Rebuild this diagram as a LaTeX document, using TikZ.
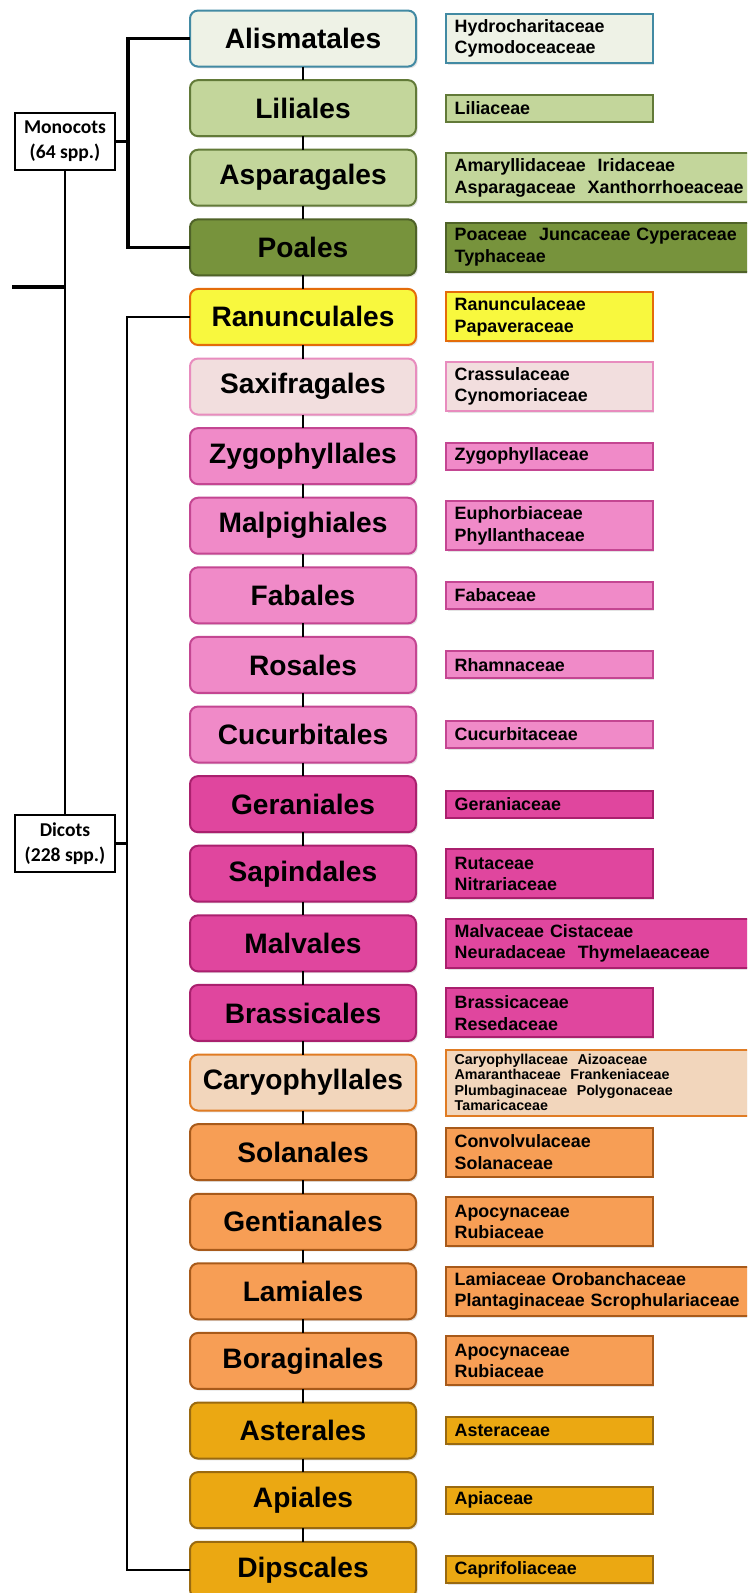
\documentclass[tikz,border=0pt]{standalone}
\usepackage{fontspec}
\setmainfont{Liberation Sans}
\newfontfamily\calibri{Carlito}
\usepackage{tikz}
\usetikzlibrary{positioning,shadows}
\definecolor{alisFill}{RGB}{238,242,230}
\definecolor{alisLine}{RGB}{66,138,163}
\definecolor{liliFill}{RGB}{195,214,155}
\definecolor{liliLine}{RGB}{98,122,56}
\definecolor{poaFill}{RGB}{119,147,60}
\definecolor{poaLine}{RGB}{79,98,40}
\definecolor{ranFill}{RGB}{248,248,62}
\definecolor{ranLine}{RGB}{228,108,10}
\definecolor{saxFill}{RGB}{242,222,222}
\definecolor{saxLine}{RGB}{232,140,190}
\definecolor{pinkFill}{RGB}{240,138,200}
\definecolor{pinkLine}{RGB}{196,70,146}
\definecolor{magFill}{RGB}{224,70,158}
\definecolor{magLine}{RGB}{170,32,110}
\definecolor{caryFill}{RGB}{242,214,188}
\definecolor{caryLine}{RGB}{224,124,36}
\definecolor{oraFill}{RGB}{247,158,85}
\definecolor{oraLine}{RGB}{168,90,26}
\definecolor{goldFill}{RGB}{235,168,18}
\definecolor{goldLine}{RGB}{154,106,16}
\newcommand\ordfont{\fontsize{21.1pt}{24pt}\selectfont\bfseries}
\newcommand\famfont{\fontsize{13.4pt}{16.1pt}\selectfont\bfseries}
\newcommand\tinyfamfont{\fontsize{10.7pt}{11.6pt}\selectfont\bfseries}
\newcommand\cladefont{\calibri\fontsize{14.7pt}{19pt}\selectfont\bfseries}

\begin{document}
\begin{tikzpicture}[
  ord/.style={draw,rounded corners=6pt,line width=1.5pt,minimum width=169.5pt,minimum height=42pt,outer sep=0pt,font=\ordfont,
    drop shadow={opacity=0.22,shadow xshift=1.3pt,shadow yshift=-1.3pt}},
  fam/.style={draw,line width=1.5pt,text width=142pt,align=left,inner xsep=6.5pt,inner ysep=0pt,minimum height=20.25pt,outer sep=0pt,font=\famfont,
    drop shadow={opacity=0.22,shadow xshift=1.3pt,shadow yshift=-1.3pt}},
  fam2/.style={fam,minimum height=36.75pt},
  famwide/.style={fam2,text width=250pt},
  clade/.style={draw,line width=1.1pt,fill=white,minimum width=75pt,minimum height=42.75pt,align=center,font=\cladefont,outer sep=0pt},
  link/.style={line width=1.8pt},
  branch/.style={line width=2.4pt},
  cAlis/.style={fill=alisFill,draw=alisLine},
  cLili/.style={fill=liliFill,draw=liliLine},
  cPoa/.style={fill=poaFill,draw=poaLine},
  cRan/.style={fill=ranFill,draw=ranLine},
  cSax/.style={fill=saxFill,draw=saxLine},
  cPink/.style={fill=pinkFill,draw=pinkLine},
  cMag/.style={fill=magFill,draw=magLine},
  cCary/.style={fill=caryFill,draw=caryLine},
  cOra/.style={fill=oraFill,draw=oraLine},
  cGold/.style={fill=goldFill,draw=goldLine},
]
\useasboundingbox (0,0) rectangle (560.25pt,-1194.75pt);
\clip (0,0) rectangle (560.25pt,-1194.75pt);

% orders
\node[ord,cAlis] (ali) at (227.25pt,-28.9pt) {Alismatales};
\node[ord,cLili,below=10.2pt of ali] (lil) {Liliales};
\node[ord,cLili,below=10.2pt of lil] (asp) {Asparagales};
\node[ord,cPoa,below=10.2pt of asp] (poa) {Poales};
\node[ord,cRan,below=10.2pt of poa] (ran) {Ranunculales};
\node[ord,cSax,below=10.2pt of ran] (sax) {Saxifragales};
\node[ord,cPink,below=10.2pt of sax] (zyg) {Zygophyllales};
\node[ord,cPink,below=10.2pt of zyg] (mal) {Malpighiales};
\node[ord,cPink,below=10.2pt of mal] (fab) {Fabales};
\node[ord,cPink,below=10.2pt of fab] (ros) {Rosales};
\node[ord,cPink,below=10.2pt of ros] (cuc) {Cucurbitales};
\node[ord,cMag,below=10.2pt of cuc] (ger) {Geraniales};
\node[ord,cMag,below=10.2pt of ger] (sap) {Sapindales};
\node[ord,cMag,below=10.2pt of sap] (mav) {Malvales};
\node[ord,cMag,below=10.2pt of mav] (bra) {Brassicales};
\node[ord,cCary,below=10.2pt of bra] (car) {Caryophyllales};
\node[ord,cOra,below=10.2pt of car] (sol) {Solanales};
\node[ord,cOra,below=10.2pt of sol] (gen) {Gentianales};
\node[ord,cOra,below=10.2pt of gen] (lam) {Lamiales};
\node[ord,cOra,below=10.2pt of lam] (bor) {Boraginales};
\node[ord,cGold,below=10.2pt of bor] (ast) {Asterales};
\node[ord,cGold,below=10.2pt of ast] (api) {Apiales};
\node[ord,cGold,below=10.2pt of api] (dip) {Dipscales};

% families
\node[fam2,cAlis,right=22.5pt of ali] (aliF) {Hydrocharitaceae\\Cymodoceaceae};
\node[fam,cLili,right=22.5pt of lil] (lilF) {Liliaceae};
\node[famwide,cLili,right=22.5pt of asp] (aspF) {Amaryllidaceae\ \ Iridaceae\\Asparagaceae\ \ Xanthorrhoeaceae};
\node[famwide,cPoa,right=22.5pt of poa] (poaF) {Poaceae\ \ Juncaceae Cyperaceae\\Typhaceae};
\node[fam2,cRan,right=22.5pt of ran] (ranF) {Ranunculaceae\\Papaveraceae};
\node[fam2,cSax,right=22.5pt of sax] (saxF) {Crassulaceae\\Cynomoriaceae};
\node[fam,cPink,right=22.5pt of zyg] (zygF) {Zygophyllaceae};
\node[fam2,cPink,right=22.5pt of mal] (malF) {Euphorbiaceae\\Phyllanthaceae};
\node[fam,cPink,right=22.5pt of fab] (fabF) {Fabaceae};
\node[fam,cPink,right=22.5pt of ros] (rosF) {Rhamnaceae};
\node[fam,cPink,right=22.5pt of cuc] (cucF) {Cucurbitaceae};
\node[fam,cMag,right=22.5pt of ger] (gerF) {Geraniaceae};
\node[fam2,cMag,right=22.5pt of sap] (sapF) {Rutaceae\\Nitrariaceae};
\node[famwide,cMag,right=22.5pt of mav] (mavF) {Malvaceae Cistaceae\\Neuradaceae\ \ Thymelaeaceae};
\node[fam2,cMag,right=22.5pt of bra] (braF) {Brassicaceae\\Resedaceae};
\node[famwide,cCary,minimum height=49.5pt,font=\tinyfamfont,right=22.5pt of car] (carF) {Caryophyllaceae\ \ Aizoaceae\\Amaranthaceae\ \ Frankeniaceae\\Plumbaginaceae\ \ Polygonaceae\\Tamaricaceae};
\node[fam2,cOra,right=22.5pt of sol] (solF) {Convolvulaceae\\Solanaceae};
\node[fam2,cOra,right=22.5pt of gen] (genF) {Apocynaceae\\Rubiaceae};
\node[famwide,cOra,right=22.5pt of lam] (lamF) {Lamiaceae Orobanchaceae\\Plantaginaceae Scrophulariaceae};
\node[fam2,cOra,right=22.5pt of bor] (borF) {Apocynaceae\\Rubiaceae};
\node[fam,cGold,right=22.5pt of ast] (astF) {Asteraceae};
\node[fam,cGold,right=22.5pt of api] (apiF) {Apiaceae};
\node[fam,cGold,right=22.5pt of dip] (dipF) {Caprifoliaceae};

% order chain
\draw[link] (ali) -- (lil);
\draw[link] (lil) -- (asp);
\draw[link] (asp) -- (poa);
\draw[link] (poa) -- (ran);
\draw[link] (ran) -- (sax);
\draw[link] (sax) -- (zyg);
\draw[link] (zyg) -- (mal);
\draw[link] (mal) -- (fab);
\draw[link] (fab) -- (ros);
\draw[link] (ros) -- (cuc);
\draw[link] (cuc) -- (ger);
\draw[link] (ger) -- (sap);
\draw[link] (sap) -- (mav);
\draw[link] (mav) -- (bra);
\draw[link] (bra) -- (car);
\draw[link] (car) -- (sol);
\draw[link] (sol) -- (gen);
\draw[link] (gen) -- (lam);
\draw[link] (lam) -- (bor);
\draw[link] (bor) -- (ast);
\draw[link] (ast) -- (api);
\draw[link] (api) -- (dip);

% clades
\node[clade] (mono) at (48.75pt,-106.1pt) {Monocots\\(64 spp.)};
\node[clade] (dico) at (48.75pt,-632.6pt) {Dicots\\(228 spp.)};
\coordinate[right=9.75pt of mono] (mbar);
\coordinate[right=9pt of dico] (dbar);
\coordinate (root) at (9pt,-215.25pt);

\draw[branch] (mono.east) -- (mbar);
\draw[branch] (ali.west) -| (mbar);
\draw[branch] (poa.west) -| (mbar);
\draw[link] (dico.east) -- (dbar);
\draw[link] (ran.west) -| (dbar);
\draw[link] (dip.west) -| (dbar);
\draw[link] (mono) -- (dico);
\draw[branch] (root) -- (root -| mono.south);
\end{tikzpicture}
\end{document}
